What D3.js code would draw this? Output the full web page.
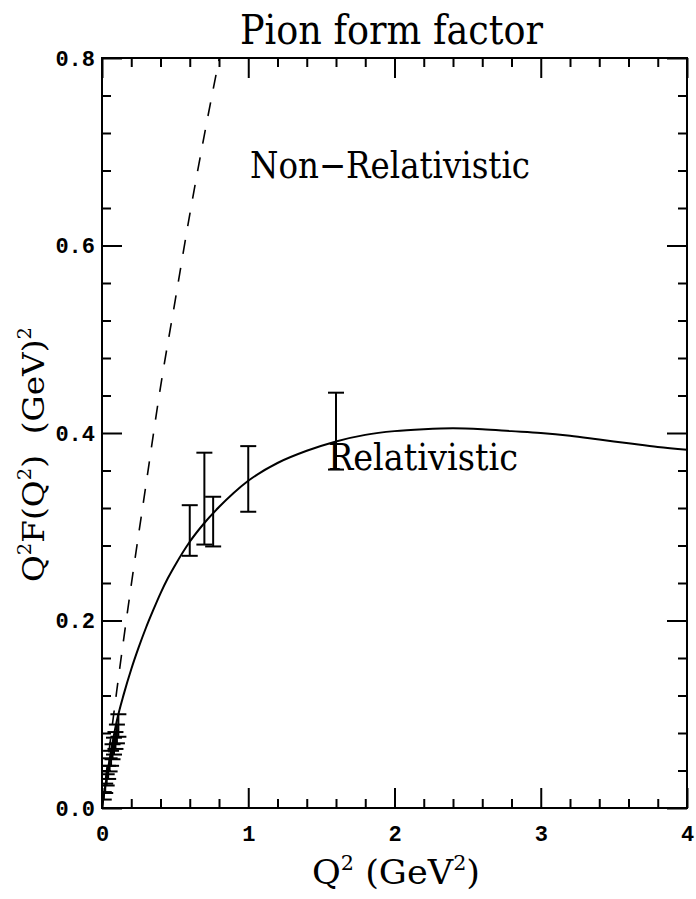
<!DOCTYPE html>
<html>
<head>
<meta charset="utf-8">
<script src="https://cdn.jsdelivr.net/npm/d3@7"></script>
<style>
  html, body { margin: 0; padding: 0; background: #fff; }
  svg { display: block; }
  .serif { font-family: "DejaVu Serif", serif; fill: #000; }
  .tick text { font-family: "Liberation Mono", monospace; font-weight: bold; font-size: 22px; fill: #000; }
</style>
</head>
<body>
<svg id="chart" width="696" height="899"></svg>
<script>
// Axis domains and tick values
const xDomain = [0, 4];
const yDomain = [0, 0.8];
const xMajorTicks = [0, 1, 2, 3, 4];
const xMinorTicks = [0.2, 0.4, 0.6, 0.8, 1.2, 1.4, 1.6, 1.8, 2.2, 2.4, 2.6, 2.8, 3.2, 3.4, 3.6, 3.8];
const yMajorTicks = [0, 0.2, 0.4, 0.6, 0.8];
const yMinorTicks = [0.04, 0.08, 0.12, 0.16, 0.24, 0.28, 0.32, 0.36, 0.44, 0.48, 0.52, 0.56, 0.64, 0.68, 0.72, 0.76];
const yTickLabels = ["0.0", "0.2", "0.4", "0.6", "0.8"];
const xTickLabels = ["0", "1", "2", "3", "4"];

// Relativistic model curve: Q^2 vs Q^2 F(Q^2)
const relQ2 = [0, 0.05, 0.1, 0.15, 0.2, 0.25, 0.3, 0.35, 0.4, 0.45, 0.5, 0.6, 0.7, 0.8, 0.9, 1.0, 1.2, 1.4, 1.6, 1.8, 2.0, 2.2, 2.4, 2.6, 2.8, 3.0, 3.2, 3.4, 3.6, 3.8, 4.0];
const relVal = [0, 0.050, 0.092, 0.122, 0.148, 0.171, 0.192, 0.211, 0.229, 0.245, 0.259, 0.284, 0.304, 0.321, 0.336, 0.349, 0.368, 0.381, 0.391, 0.398, 0.402, 0.404, 0.405, 0.404, 0.402, 0.400, 0.397, 0.393, 0.389, 0.385, 0.382];

// Non-relativistic model curve (dashed)
const nrQ2 = [0, 0.05, 0.1, 0.2, 0.3, 0.4, 0.5, 0.6, 0.7, 0.81];
const nrVal = [0, 0.063, 0.124, 0.238, 0.344, 0.449, 0.541, 0.633, 0.718, 0.806];

// Measurements with error bars
const dataQ2 = [0.012, 0.022, 0.032, 0.042, 0.052, 0.062, 0.072, 0.082, 0.092, 0.102, 0.112, 0.60, 0.70, 0.76, 1.00, 1.60];
const dataVal = [0.013, 0.021, 0.030, 0.038, 0.046, 0.053, 0.060, 0.066, 0.072, 0.079, 0.088, 0.296, 0.330, 0.3055, 0.351, 0.402];
const dataErr = [0.004, 0.005, 0.006, 0.007, 0.007, 0.008, 0.008, 0.009, 0.009, 0.010, 0.012, 0.027, 0.049, 0.0265, 0.035, 0.041];

const svg = d3.select("#chart");
const L = 102, R = 687, T = 58, B = 808;
const x = d3.scaleLinear().domain(xDomain).range([L, R]);
const y = d3.scaleLinear().domain(yDomain).range([B, T]);

svg.append("clipPath").attr("id", "clip")
  .append("rect").attr("x", L).attr("y", T).attr("width", R - L).attr("height", B - T);

// Frame
svg.append("rect").attr("x", L).attr("y", T).attr("width", R - L).attr("height", B - T)
  .attr("fill", "none").attr("stroke", "#000").attr("stroke-width", 2);

function styleAxis(g) {
  g.select(".domain").remove();
  g.selectAll(".tick line").attr("stroke", "#000").attr("stroke-width", 2);
}

// Major and minor ticks on all four sides, pointing inward
const MAJ = 20, MIN = 9;
svg.append("g").attr("transform", `translate(0,${B})`)
  .call(d3.axisBottom(x).tickValues(xMajorTicks).tickSize(-MAJ).tickPadding(17)
    .tickFormat((d, i) => xTickLabels[i]))
  .call(styleAxis);
svg.append("g").attr("transform", `translate(0,${B})`)
  .call(d3.axisBottom(x).tickValues(xMinorTicks).tickSize(-MIN).tickFormat(""))
  .call(styleAxis);
svg.append("g").attr("transform", `translate(0,${T})`)
  .call(d3.axisTop(x).tickValues(xMajorTicks).tickSize(-MAJ).tickFormat(""))
  .call(styleAxis);
svg.append("g").attr("transform", `translate(0,${T})`)
  .call(d3.axisTop(x).tickValues(xMinorTicks).tickSize(-MIN).tickFormat(""))
  .call(styleAxis);
svg.append("g").attr("transform", `translate(${L},0)`)
  .call(d3.axisLeft(y).tickValues(yMajorTicks).tickSize(-MAJ).tickPadding(7)
    .tickFormat((d, i) => yTickLabels[i]))
  .call(styleAxis);
svg.append("g").attr("transform", `translate(${L},0)`)
  .call(d3.axisLeft(y).tickValues(yMinorTicks).tickSize(-MIN).tickFormat(""))
  .call(styleAxis);
svg.append("g").attr("transform", `translate(${R},0)`)
  .call(d3.axisRight(y).tickValues(yMajorTicks).tickSize(-MAJ).tickFormat(""))
  .call(styleAxis);
svg.append("g").attr("transform", `translate(${R},0)`)
  .call(d3.axisRight(y).tickValues(yMinorTicks).tickSize(-MIN).tickFormat(""))
  .call(styleAxis);

const inner = svg.append("g").attr("clip-path", "url(#clip)");

// Curves
inner.append("path").datum(relQ2.map((q, i) => [q, relVal[i]]))
  .attr("d", d3.line().x(d => x(d[0])).y(d => y(d[1])).curve(d3.curveMonotoneX))
  .attr("fill", "none").attr("stroke", "#000").attr("stroke-width", 2);
inner.append("path").datum(nrQ2.map((q, i) => [q, nrVal[i]]))
  .attr("d", d3.line().x(d => x(d[0])).y(d => y(d[1])).curve(d3.curveMonotoneX))
  .attr("fill", "none").attr("stroke", "#000").attr("stroke-width", 1.6)
  .attr("stroke-dasharray", "14,14");

// Error bars
const CAP = 8;
const bars = inner.append("g").attr("stroke", "#000").attr("stroke-width", 2);
dataQ2.forEach((q, i) => {
  const cx = x(q), y0 = y(dataVal[i] - dataErr[i]), y1 = y(dataVal[i] + dataErr[i]);
  bars.append("line").attr("x1", cx).attr("x2", cx).attr("y1", y0).attr("y2", y1);
  bars.append("line").attr("x1", cx - CAP).attr("x2", cx + CAP).attr("y1", y0).attr("y2", y0);
  bars.append("line").attr("x1", cx - CAP).attr("x2", cx + CAP).attr("y1", y1).attr("y2", y1);
});

// Text
svg.append("text").attr("class", "serif").attr("x", 240).attr("y", 44)
  .attr("font-size", 41).attr("textLength", 303).attr("lengthAdjust", "spacingAndGlyphs")
  .text("Pion form factor");
svg.append("text").attr("class", "serif").attr("x", 250).attr("y", 178)
  .attr("font-size", 37).attr("textLength", 280).attr("lengthAdjust", "spacingAndGlyphs")
  .text("Non\u2212Relativistic");
svg.append("text").attr("class", "serif").attr("x", 328).attr("y", 470)
  .attr("font-size", 37).attr("textLength", 190).attr("lengthAdjust", "spacingAndGlyphs")
  .text("Relativistic");

// Axis titles
const xt = svg.append("text").attr("class", "serif").attr("x", 312).attr("y", 884)
  .attr("font-size", 34).attr("textLength", 168).attr("lengthAdjust", "spacingAndGlyphs");
xt.append("tspan").text("Q");
xt.append("tspan").attr("dy", -14).attr("font-size", 20).text("2");
xt.append("tspan").attr("dy", 14).text("\u00a0(GeV");
xt.append("tspan").attr("dy", -14).attr("font-size", 20).text("2");
xt.append("tspan").attr("dy", 14).text(")");

const yt = svg.append("text").attr("class", "serif")
  .attr("transform", "translate(44,582) rotate(-90)")
  .attr("font-size", 30).attr("textLength", 255).attr("lengthAdjust", "spacingAndGlyphs");
yt.append("tspan").text("Q");
yt.append("tspan").attr("dy", -13).attr("font-size", 18).text("2");
yt.append("tspan").attr("dy", 13).text("F(Q");
yt.append("tspan").attr("dy", -13).attr("font-size", 18).text("2");
yt.append("tspan").attr("dy", 13).text(")\u00a0\u00a0(GeV)");
yt.append("tspan").attr("dy", -13).attr("font-size", 18).text("2");
</script>
</body>
</html>
